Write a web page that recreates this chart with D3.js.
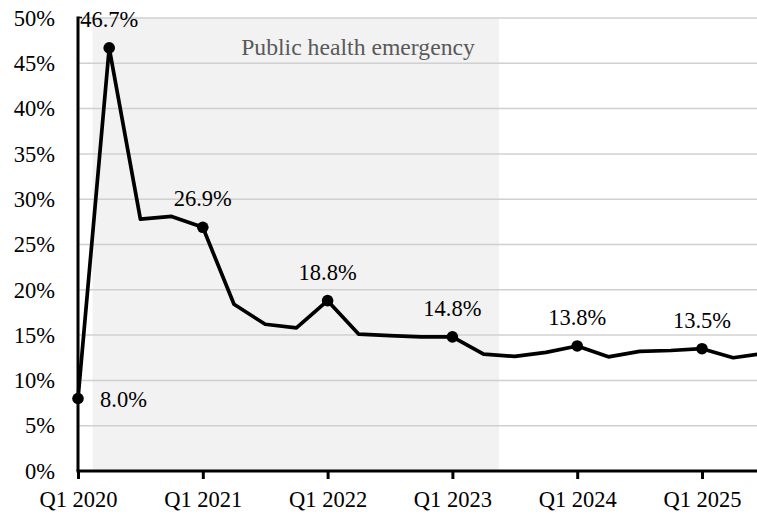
<!DOCTYPE html>
<html>
<head>
<meta charset="utf-8">
<script src="https://cdn.jsdelivr.net/npm/d3@7"></script>
<style>
  html, body { margin: 0; padding: 0; background: #fff; }
  svg { display: block; }
  svg text { font-family: "Liberation Serif", "Times New Roman", serif !important; }
</style>
</head>
<body>
<script>
// ---- Data ----
const quarters = ["Q1 2020","Q2 2020","Q3 2020","Q4 2020","Q1 2021","Q2 2021","Q3 2021","Q4 2021",
  "Q1 2022","Q2 2022","Q3 2022","Q4 2022","Q1 2023","Q2 2023","Q3 2023","Q4 2023",
  "Q1 2024","Q2 2024","Q3 2024","Q4 2024","Q1 2025","Q2 2025","Q3 2025"];
const values = [8.0, 46.7, 27.8, 28.1, 26.9, 18.4, 16.2, 15.8,
  18.8, 15.1, 14.95, 14.8, 14.8, 12.9, 12.65, 13.1,
  13.8, 12.6, 13.2, 13.3, 13.5, 12.5, 13.0];
const labeledIdx = [0, 1, 4, 8, 12, 16, 20];
const labelText = ["8.0%", "46.7%", "26.9%", "18.8%", "14.8%", "13.8%", "13.5%"];
const xTickIdx = [0, 4, 8, 12, 16, 20];
const yTicks = [0, 5, 10, 15, 20, 25, 30, 35, 40, 45, 50];
const shadeRange = [0.465, 13.49]; // in quarter-index units
const shadeLabel = "Public health emergency";

// ---- Layout ----
const W = 757, H = 514;
const FONT = "'Liberation Serif', 'Times New Roman', serif";
const svg = d3.select("body").append("svg").attr("width", W).attr("height", H);

const x = d3.scaleLinear().domain([0, 22]).range([78, 78 + 22 * 31.2]);
const y = d3.scaleLinear().domain([0, 50]).range([471, 18]);

// shading
svg.append("rect")
  .attr("x", x(shadeRange[0]))
  .attr("y", y(50))
  .attr("width", x(shadeRange[1]) - x(shadeRange[0]))
  .attr("height", y(0) - y(50))
  .attr("fill", "#f2f2f2");

// gridlines
svg.append("g").selectAll("line").data(yTicks.filter(d => d > 0)).join("line")
  .attr("x1", x(0)).attr("x2", W)
  .attr("y1", d => y(d)).attr("y2", d => y(d))
  .attr("stroke", "#d0d0d0").attr("stroke-width", 1.5);

// shade label
svg.append("text")
  .attr("x", x(shadeRange[1]) - 24)
  .attr("y", 54.5)
  .attr("text-anchor", "end")
  .style("font-family", FONT)
  .attr("font-size", 23.7)
  .attr("fill", "#595959")
  .text(shadeLabel);

// y axis labels
const yAxis = d3.axisLeft(y).tickValues(yTicks).tickFormat(d => d + "%").tickSize(0).tickPadding(23);
const gy = svg.append("g").attr("transform", `translate(${x(0)},0)`).call(yAxis);
gy.attr("font-family", null);
gy.select(".domain").remove();
gy.selectAll("text").attr("font-size", 22.5).attr("fill", "#000").style("font-family", FONT);

// y axis line
svg.append("line")
  .attr("x1", x(0)).attr("x2", x(0))
  .attr("y1", y(50) - 1.5).attr("y2", y(0))
  .attr("stroke", "#000").attr("stroke-width", 3);
svg.append("line")
  .attr("x1", x(0)).attr("x2", x(0) + 4)
  .attr("y1", y(50) - 0.5).attr("y2", y(50) - 0.5)
  .attr("stroke", "#000").attr("stroke-width", 1.5);

// x axis
const xAxis = d3.axisBottom(x).tickValues(xTickIdx).tickFormat(i => quarters[i]).tickSize(8).tickPadding(12);
const gx = svg.append("g").attr("transform", `translate(0,${y(0)})`).call(xAxis);
gx.attr("font-family", null);
gx.select(".domain").remove();
gx.selectAll(".tick line").attr("stroke", "#000").attr("stroke-width", 3);
gx.selectAll("text").attr("font-size", 22.5).attr("fill", "#000").style("font-family", FONT);
svg.append("line")
  .attr("x1", x(0) - 1.5).attr("x2", W)
  .attr("y1", y(0)).attr("y2", y(0))
  .attr("stroke", "#000").attr("stroke-width", 3);

// line
const line = d3.line().x((d, i) => x(i)).y(d => y(d));
svg.append("path")
  .datum(values)
  .attr("fill", "none")
  .attr("stroke", "#000")
  .attr("stroke-width", 3.7)
  .attr("stroke-linejoin", "round")
  .attr("d", line);

// markers
svg.append("g").selectAll("circle").data(labeledIdx).join("circle")
  .attr("cx", i => x(i)).attr("cy", i => y(values[i]))
  .attr("r", 5.8).attr("fill", "#000");

// labels
svg.append("g").selectAll("text").data(labeledIdx).join("text")
  .attr("x", (i, k) => k === 0 ? x(i) + 22 : x(i))
  .attr("y", (i, k) => k === 0 ? y(values[i]) + 8 : y(values[i]) - 21)
  .attr("text-anchor", (i, k) => k === 0 ? "start" : "middle")
  .style("font-family", FONT)
  .attr("font-size", 22.5)
  .attr("fill", "#000")
  .text((i, k) => labelText[k]);
</script>
</body>
</html>
